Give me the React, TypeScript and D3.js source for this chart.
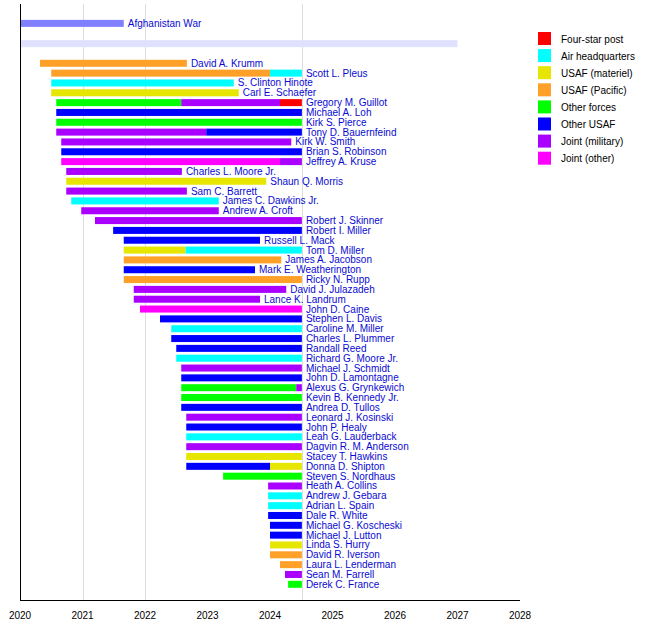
import React from "react";
import * as d3 from "d3";

const categories = ["Four-star post", "Air headquarters", "USAF (materiel)", "USAF (Pacific)", "Other forces", "Other USAF", "Joint (military)", "Joint (other)"];
const categoryColors = ["#ff0000", "#00ffff", "#e6e600", "#ffa028", "#00ff00", "#0000ff", "#aa00ff", "#ff00ff"];

const NOW = 2024.51;
const yearTicks = [2020, 2021, 2022, 2023, 2024, 2025, 2026, 2027, 2028];
const gridYears = [2021, 2022, NOW];

const eventName = "Afghanistan War";
const eventStart = 2020.0;
const eventEnd = 2021.66;
const bandStart = 2020.0;
const bandEnd = 2027.0;

const names = [
  "David A. Krumm", "Scott L. Pleus", "S. Clinton Hinote", "Carl E. Schaefer", "Gregory M. Guillot",
  "Michael A. Loh", "Kirk S. Pierce", "Tony D. Bauernfeind", "Kirk W. Smith", "Brian S. Robinson",
  "Jeffrey A. Kruse", "Charles L. Moore Jr.", "Shaun Q. Morris", "Sam C. Barrett", "James C. Dawkins Jr.",
  "Andrew A. Croft", "Robert J. Skinner", "Robert I. Miller", "Russell L. Mack", "Tom D. Miller",
  "James A. Jacobson", "Mark E. Weatherington", "Ricky N. Rupp", "David J. Julazadeh", "Lance K. Landrum",
  "John D. Caine", "Stephen L. Davis", "Caroline M. Miller", "Charles L. Plummer", "Randall Reed",
  "Richard G. Moore Jr.", "Michael J. Schmidt", "John D. Lamontagne", "Alexus G. Grynkewich", "Kevin B. Kennedy Jr.",
  "Andrea D. Tullos", "Leonard J. Kosinski", "John P. Healy", "Leah G. Lauderback", "Dagvin R. M. Anderson",
  "Stacey T. Hawkins", "Donna D. Shipton", "Steven S. Nordhaus", "Heath A. Collins", "Andrew J. Gebara",
  "Adrian L. Spain", "Dale R. White", "Michael G. Koscheski", "Michael J. Lutton", "Linda S. Hurry",
  "David R. Iverson", "Laura L. Lenderman", "Sean M. Farrell", "Derek C. France",
];

// [name, start, end, category]
const assignments: [string, number, number, string][] = [
  ["David A. Krumm", 2020.32, 2022.67, "USAF (Pacific)"],
  ["Scott L. Pleus", 2020.5, 2024.0, "USAF (Pacific)"],
  ["Scott L. Pleus", 2024.0, NOW, "Air headquarters"],
  ["S. Clinton Hinote", 2020.5, 2023.42, "Air headquarters"],
  ["Carl E. Schaefer", 2020.5, 2023.5, "USAF (materiel)"],
  ["Gregory M. Guillot", 2020.58, 2022.58, "Other forces"],
  ["Gregory M. Guillot", 2022.58, 2024.16, "Joint (military)"],
  ["Gregory M. Guillot", 2024.16, NOW, "Four-star post"],
  ["Michael A. Loh", 2020.58, NOW, "Other USAF"],
  ["Kirk S. Pierce", 2020.58, NOW, "Other forces"],
  ["Tony D. Bauernfeind", 2020.58, 2022.98, "Joint (military)"],
  ["Tony D. Bauernfeind", 2022.98, NOW, "Other USAF"],
  ["Kirk W. Smith", 2020.66, 2024.34, "Joint (military)"],
  ["Brian S. Robinson", 2020.66, NOW, "Other USAF"],
  ["Jeffrey A. Kruse", 2020.66, 2024.16, "Joint (other)"],
  ["Jeffrey A. Kruse", 2024.16, NOW, "Joint (military)"],
  ["Charles L. Moore Jr.", 2020.74, 2022.59, "Joint (military)"],
  ["Shaun Q. Morris", 2020.74, 2023.94, "USAF (materiel)"],
  ["Sam C. Barrett", 2020.74, 2022.67, "Joint (military)"],
  ["James C. Dawkins Jr.", 2020.82, 2023.18, "Air headquarters"],
  ["Andrew A. Croft", 2020.98, 2023.18, "Joint (military)"],
  ["Robert J. Skinner", 2021.2, NOW, "Joint (military)"],
  ["Robert I. Miller", 2021.49, NOW, "Other USAF"],
  ["Russell L. Mack", 2021.66, 2023.84, "Other USAF"],
  ["Tom D. Miller", 2021.66, 2022.65, "USAF (materiel)"],
  ["Tom D. Miller", 2022.65, NOW, "Air headquarters"],
  ["James A. Jacobson", 2021.66, 2024.18, "USAF (Pacific)"],
  ["Mark E. Weatherington", 2021.66, 2023.76, "Other USAF"],
  ["Ricky N. Rupp", 2021.66, NOW, "USAF (Pacific)"],
  ["David J. Julazadeh", 2021.82, 2024.26, "Joint (military)"],
  ["Lance K. Landrum", 2021.82, 2023.84, "Joint (military)"],
  ["John D. Caine", 2021.92, NOW, "Joint (other)"],
  ["Stephen L. Davis", 2022.24, NOW, "Other USAF"],
  ["Caroline M. Miller", 2022.42, NOW, "Air headquarters"],
  ["Charles L. Plummer", 2022.42, NOW, "Other USAF"],
  ["Randall Reed", 2022.5, NOW, "Other USAF"],
  ["Richard G. Moore Jr.", 2022.5, NOW, "Air headquarters"],
  ["Michael J. Schmidt", 2022.58, NOW, "Joint (military)"],
  ["John D. Lamontagne", 2022.58, NOW, "Other USAF"],
  ["Alexus G. Grynkewich", 2022.58, 2024.42, "Other forces"],
  ["Alexus G. Grynkewich", 2024.42, NOW, "Joint (military)"],
  ["Kevin B. Kennedy Jr.", 2022.58, NOW, "Other forces"],
  ["Andrea D. Tullos", 2022.58, NOW, "Other USAF"],
  ["Leonard J. Kosinski", 2022.66, NOW, "Joint (military)"],
  ["John P. Healy", 2022.66, NOW, "Other USAF"],
  ["Leah G. Lauderback", 2022.66, NOW, "Air headquarters"],
  ["Dagvin R. M. Anderson", 2022.66, NOW, "Joint (military)"],
  ["Stacey T. Hawkins", 2022.66, NOW, "USAF (materiel)"],
  ["Donna D. Shipton", 2022.66, 2024.0, "Other USAF"],
  ["Donna D. Shipton", 2024.0, NOW, "USAF (materiel)"],
  ["Steven S. Nordhaus", 2023.25, NOW, "Other forces"],
  ["Heath A. Collins", 2023.97, NOW, "Joint (military)"],
  ["Andrew J. Gebara", 2023.97, NOW, "Air headquarters"],
  ["Adrian L. Spain", 2023.97, NOW, "Air headquarters"],
  ["Dale R. White", 2023.97, NOW, "Other USAF"],
  ["Michael G. Koscheski", 2024.0, NOW, "Other USAF"],
  ["Michael J. Lutton", 2024.0, NOW, "Other USAF"],
  ["Linda S. Hurry", 2024.0, NOW, "USAF (materiel)"],
  ["David R. Iverson", 2024.0, NOW, "USAF (Pacific)"],
  ["Laura L. Lenderman", 2024.16, NOW, "USAF (Pacific)"],
  ["Sean M. Farrell", 2024.24, NOW, "Joint (military)"],
  ["Derek C. France", 2024.29, NOW, "Other forces"],
];

const W = 650;
const H = 620;
const FONT = "'Liberation Sans', Arial, sans-serif";
const LABEL_COLOR = "#0a0ad2";

export default function App() {
  const x = d3.scaleLinear().domain([2020, 2028]).range([20, 520]);
  const y = d3.scaleLinear().domain([0, names.length - 1]).range([63.3, 584.3]);
  const color = d3.scaleOrdinal<string, string>().domain(categories).range(categoryColors);
  const barH = 7;
  const axisY = 600;
  const topY = 4;

  const lastEnd = d3.rollup(assignments, (v) => d3.max(v, (d) => d[2]) as number, (d) => d[0]);

  return (
    <div style={{ position: "absolute", left: 0, top: 0 }}>
      <svg width={W} height={H} style={{ display: "block", fontFamily: FONT }}>
        <rect x={0} y={0} width={W} height={H} fill="#ffffff" />
        {gridYears.map((g, i) => (
          <line key={"g" + i} x1={Math.round(x(g)) + 0.5} x2={Math.round(x(g)) + 0.5} y1={topY} y2={axisY} stroke="#dddddd" strokeWidth={1} />
        ))}
        {/* band */}
        <rect x={x(bandStart)} y={y(-2) - barH / 2} width={x(bandEnd) - x(bandStart)} height={barH} fill="#e0e0ff" />
        {/* event */}
        <rect x={x(eventStart)} y={y(-4) - barH / 2 - 0.6} width={x(eventEnd) - x(eventStart)} height={barH} fill="#8080ff" />
        <text x={x(eventEnd) + 4} y={y(-4) + 3} fontSize={10} fill={LABEL_COLOR}>{eventName}</text>

        {assignments.map((a, i) => {
          const row = names.indexOf(a[0]);
          return (
            <rect key={"b" + i} x={x(a[1])} y={y(row) - barH / 2} width={x(a[2]) - x(a[1])} height={barH} fill={color(a[3])} />
          );
        })}
        {names.map((n, i) => (
          <text key={"t" + i} x={x(lastEnd.get(n) as number) + 4} y={y(i) + 3.5} fontSize={10} fill={LABEL_COLOR}>{n}</text>
        ))}

        {/* axes */}
        <line x1={20.5} x2={20.5} y1={topY} y2={axisY + 0.5} stroke="#000" strokeWidth={1} />
        <line x1={20} x2={520} y1={axisY + 0.5} y2={axisY + 0.5} stroke="#000" strokeWidth={1} />
        {yearTicks.map((t) => (
          <text key={"yt" + t} x={x(t)} y={619} fontSize={10} textAnchor="middle" fill="#000">{t}</text>
        ))}

        {/* legend */}
        {categories.map((c, i) => (
          <g key={"l" + i}>
            <rect x={538} y={32 + i * 17.1} width={13} height={13} fill={categoryColors[i]} />
            <text x={561} y={42.5 + i * 17.1} fontSize={10} fill="#000">{c}</text>
          </g>
        ))}
      </svg>
    </div>
  );
}
